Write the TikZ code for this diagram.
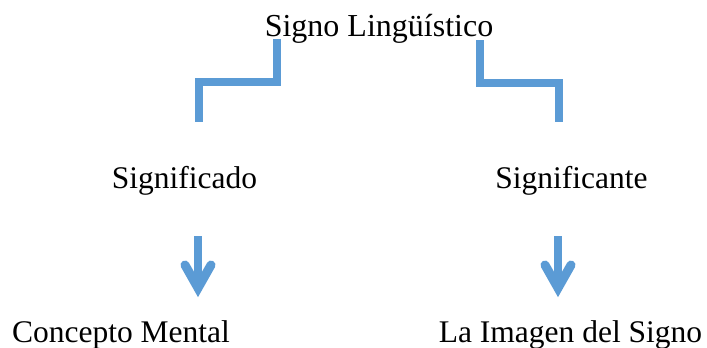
\documentclass[tikz,border=0pt]{standalone}
\usepackage{fontspec}
\setmainfont{Liberation Serif}
\usepackage{xcolor}
\usetikzlibrary{calc}

\definecolor{azul}{HTML}{5B9BD5}

\begin{document}
\begin{tikzpicture}[x=1pt,y=-1pt]
    \tikzstyle{every node}=[inner sep=0pt,anchor=base,font=\fontsize{31.5}{37}\selectfont]
    \tikzstyle{rama}=[draw=azul,line width=8pt]
    \tikzstyle{punta}=[draw=azul,line width=9pt,line cap=round,miter limit=10]

    \useasboundingbox (0,0) rectangle (707,348);

    \node[font=\fontsize{32}{38}\selectfont] (titulo) at (379,36) {Signo Lingüístico};
    \node (sdo) at (184.5,188) {Significado};
    \node (ste) at (571.5,188) {Significante};
    \node (concepto) at (121,342) {Concepto Mental};
    \node (imagen) at (570.5,342) {La Imagen del Signo};

    % ramas del signo
    \coordinate (t1) at ($(titulo.base) + (-102,3)$);
    \coordinate (t2) at ($(titulo.base) + (100.5,4)$);
    \coordinate (s1) at ($(sdo.base) + (14,-66)$);
    \coordinate (s2) at ($(ste.base) + (-12.5,-66)$);
    \draw[rama] (t1) |- ($(t1)!0.52!(s1)$) -| (s1);
    \draw[rama] (t2) |- ($(t2)!0.52!(s2)$) -| (s2);

    % flechas hacia abajo
    \coordinate (a1) at ($(sdo.base) + (13.5,48)$);
    \coordinate (a2) at ($(ste.base) + (-13.5,48)$);
    \coordinate (b1) at ($(concepto.base) + (77,-54)$);
    \coordinate (b2) at ($(imagen.base) + (-12.5,-54)$);
    \draw[rama] (a1) -- (b1);
    \draw[rama] (a2) -- (b2);
    \draw[punta] ($(b1)+(-13,-23)$) -- (b1) -- ($(b1)+(13,-23)$);
    \draw[punta] ($(b2)+(-13,-23)$) -- (b2) -- ($(b2)+(13,-23)$);

\end{tikzpicture}
\end{document}
